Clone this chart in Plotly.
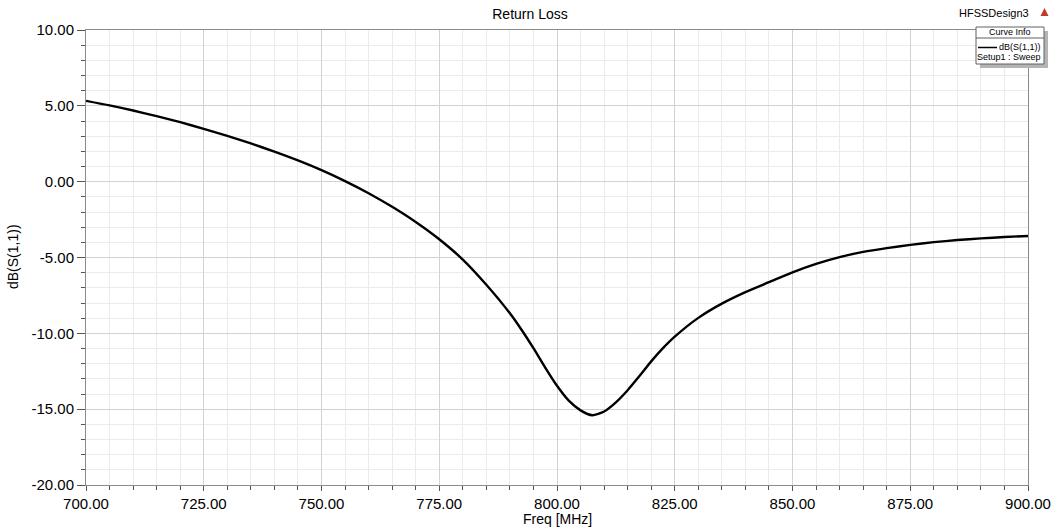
import plotly.graph_objects as go

# ---- data ----
freq_mhz = [700, 705, 710, 715, 720, 725, 730, 735, 740, 745, 750, 755, 760, 765,
            770, 775, 780, 785, 790, 792.5, 795, 797.5, 800, 802.5, 805, 807.5,
            810, 812.5, 815, 817.5, 820, 822.5, 825, 830, 835, 840, 845, 850, 855,
            860, 865, 870, 875, 880, 885, 890, 895, 900]
s11_db = [5.33, 5.03, 4.69, 4.32, 3.92, 3.48, 3.02, 2.52, 1.98, 1.40, 0.76, 0.04,
          -0.76, -1.66, -2.66, -3.80, -5.14, -6.80, -8.68, -9.78, -10.98, -12.26,
          -13.46, -14.44, -15.08, -15.40, -15.15, -14.55, -13.75, -12.82, -11.85,
          -10.98, -10.22, -8.98, -8.04, -7.28, -6.63, -5.98, -5.42, -4.97, -4.63,
          -4.38, -4.17, -3.99, -3.85, -3.74, -3.65, -3.58]

x_ticks = [700, 725, 750, 775, 800, 825, 850, 875, 900]
y_ticks = [-20, -15, -10, -5, 0, 5, 10]

FONT = "Liberation Sans, Arial, sans-serif"

fig = go.Figure()
fig.add_trace(go.Scatter(x=freq_mhz, y=s11_db, mode="lines",
                         line=dict(color="black", width=2.4, shape="spline", smoothing=0.6),
                         name="dB(S(1,1))", showlegend=False))

W, H = 1060, 529
L, R, T, B = 86, 32, 30, 44
pw, ph = W - L - R, H - T - B


def px(x):
    return (x - L) / pw


def py(y):
    return (H - B - y) / ph


def axis_style(major_len):
    return dict(
        showline=True, linecolor="#8a8a8a", linewidth=1, mirror=True,
        ticks="outside", tickcolor="#555555", ticklen=major_len, tickwidth=1,
        showgrid=True, gridcolor="#d2d2d2", gridwidth=1, zeroline=False,
        automargin=False,
        tickfont=dict(family=FONT, size=15, color="black"),
    )


fig.update_layout(
    width=W, height=H,
    margin=dict(l=L, r=R, t=T, b=B),
    paper_bgcolor="white", plot_bgcolor="white",
    font=dict(family=FONT, color="black"),
    title=dict(text="Return Loss", x=0.5, xanchor="center", y=1 - 14 / H, yanchor="middle",
               font=dict(family=FONT, size=14, color="black")),
    xaxis=dict(
        range=[700, 900], tickvals=x_ticks, ticktext=[f"{v:.2f}" for v in x_ticks],
        minor=dict(dtick=5, ticklen=4, tickcolor="#555555", showgrid=True, gridcolor="#ebebeb"),
        **axis_style(5),
    ),
    yaxis=dict(
        range=[-20, 10], tickvals=y_ticks, ticktext=[f"{v:.2f}" for v in y_ticks],
        minor=dict(dtick=1, ticklen=4, tickcolor="#555555", showgrid=True, gridcolor="#ebebeb"),
        **axis_style(8),
    ),
)

# Curve Info box (shadow, frame, separator, line sample) and marker triangle
bx0, bx1, by0, by1 = 976, 1044, 27, 64
shapes = [
    dict(type="rect", xref="paper", yref="paper", x0=px(bx0 + 4), x1=px(bx1 + 4),
         y0=py(by1 + 4), y1=py(by0 + 4), fillcolor="#b4b4b4", line=dict(width=0), layer="above"),
    dict(type="rect", xref="paper", yref="paper", x0=px(bx0), x1=px(bx1),
         y0=py(by1), y1=py(by0), fillcolor="white", line=dict(color="#606060", width=1), layer="above"),
    dict(type="line", xref="paper", yref="paper", x0=px(bx0), x1=px(bx1),
         y0=py(38), y1=py(38), line=dict(color="#606060", width=1), layer="above"),
    dict(type="line", xref="paper", yref="paper", x0=px(978), x1=px(997),
         y0=py(47.5), y1=py(47.5), line=dict(color="black", width=1.5), layer="above"),
    dict(type="path", xref="paper", yref="paper",
         path=f"M {px(1040.5)} {py(16)} L {px(1048.5)} {py(16)} L {px(1044.5)} {py(8)} Z",
         fillcolor="#c0392b", line=dict(width=0), layer="above"),
]
fig.update_layout(shapes=shapes)

anns = [
    dict(text="Freq [MHz]", x=px(557), y=py(519), xanchor="center", yanchor="middle",
         font=dict(family=FONT, size=14, color="black")),
    dict(text="dB(S(1,1))", x=px(13), y=py(257), xanchor="center", yanchor="middle",
         textangle=-90, font=dict(family=FONT, size=14, color="black")),
    dict(text="HFSSDesign3", x=px(1031), y=py(13), xanchor="right", yanchor="middle",
         font=dict(family=FONT, size=11, color="black")),
    dict(text="Curve Info", x=px((bx0 + bx1) / 2), y=py(32.5), xanchor="center", yanchor="middle",
         font=dict(family=FONT, size=9, color="black")),
    dict(text="dB(S(1,1))", x=px(1043), y=py(47), xanchor="right", yanchor="middle",
         font=dict(family=FONT, size=9, color="black")),
    dict(text="Setup1 : Sweep", x=px(1043), y=py(57), xanchor="right", yanchor="middle",
         font=dict(family=FONT, size=9, color="black")),
]
for a in anns:
    a.update(xref="paper", yref="paper", showarrow=False)
fig.update_layout(annotations=anns)

fig.write_html("out.html")
